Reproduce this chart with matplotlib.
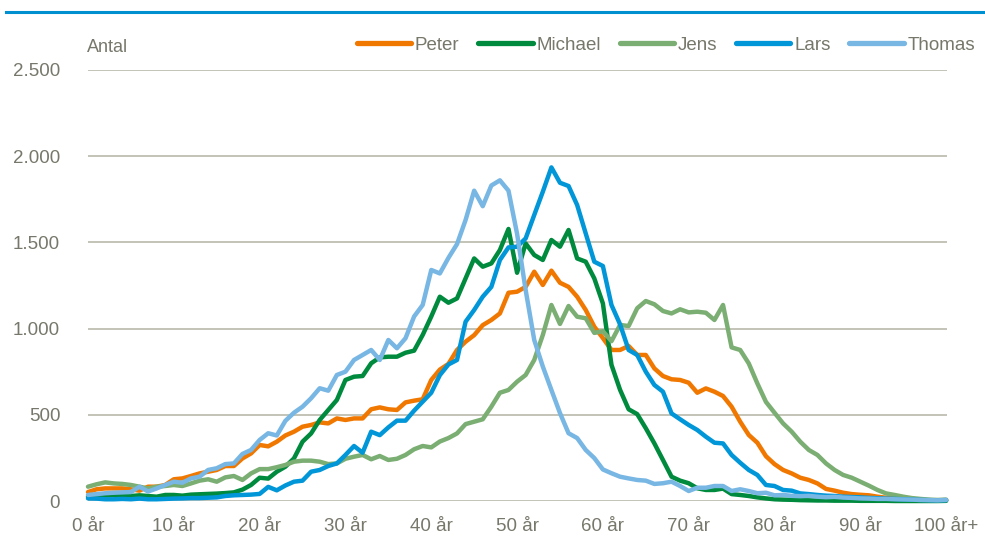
import matplotlib
matplotlib.use("Agg")
import matplotlib.pyplot as plt
from matplotlib.lines import Line2D

plt.rcParams['font.family'] = ['Liberation Sans', 'DejaVu Sans']

ages = list(range(101))
xtick_pos = [0, 10, 20, 30, 40, 50, 60, 70, 80, 90, 100]
xtick_labels = ["0 år", "10 år", "20 år", "30 år", "40 år", "50 år", "60 år", "70 år", "80 år", "90 år", "100 år+"]
ytick_pos = [0, 500, 1000, 1500, 2000, 2500]
ytick_labels = ["0", "500", "1.000", "1.500", "2.000", "2.500"]

peter = [52, 68, 73, 73, 73, 68, 60, 83, 83, 93, 126, 131, 145, 160, 170, 180, 203, 203, 247, 276,
         325, 317, 344, 380, 402, 431, 441, 456, 450, 479, 470, 479, 479, 532, 543, 532, 528, 572, 582, 590,
         702, 762, 795, 876, 924, 962, 1020, 1050, 1088, 1208, 1214, 1242, 1330, 1253, 1336, 1266, 1242, 1185, 1108, 1011,
         945, 876, 876, 899, 847, 847, 769, 725, 706, 702, 686, 628, 653, 634, 609, 547, 460, 383, 338, 260,
         214, 180, 160, 135, 122, 102, 70, 60, 48, 40, 36, 33, 25, 19, 15, 10, 8, 6, 4, 3, 5]
michael = [25, 29, 31, 35, 33, 29, 33, 29, 25, 35, 35, 31, 37, 39, 41, 43, 46, 50, 66, 93,
           135, 130, 170, 199, 247, 344, 392, 470, 528, 586, 702, 721, 725, 799, 833, 837, 837, 860, 872, 963,
           1070, 1185, 1150, 1175, 1291, 1407, 1359, 1378, 1456, 1578, 1324, 1494, 1427, 1398, 1514, 1475, 1572, 1407, 1388, 1291,
           1146, 790, 645, 532, 504, 422, 334, 238, 141, 118, 103, 74, 64, 64, 72, 40, 35, 29, 21, 15,
           10, 8, 7, 5, 4, 3, 3, 2, 2, 2, 1, 1, 1, 1, 0, 0, 0, 0, 0, 0, 1]
jens = [83, 97, 108, 102, 99, 93, 83, 73, 83, 87, 93, 87, 102, 118, 126, 112, 137, 145, 122, 160,
        185, 185, 196, 209, 228, 234, 234, 228, 214, 218, 245, 257, 267, 242, 261, 238, 245, 267, 300, 319,
        311, 345, 365, 392, 446, 460, 474, 547, 628, 644, 692, 731, 818, 963, 1137, 1027, 1131, 1069, 1060, 975,
        985, 927, 1021, 1015, 1118, 1160, 1141, 1102, 1088, 1112, 1094, 1098, 1092, 1050, 1137, 891, 876, 798, 682, 575,
        512, 450, 402, 344, 296, 267, 218, 180, 151, 135, 112, 89, 64, 44, 35, 25, 17, 12, 8, 6, 8]
lars = [15, 14, 10, 10, 12, 10, 14, 10, 10, 12, 14, 15, 17, 17, 19, 21, 29, 33, 35, 37,
        41, 82, 62, 90, 112, 118, 170, 180, 203, 218, 267, 319, 280, 402, 382, 427, 466, 466, 524, 576,
        628, 730, 792, 818, 1040, 1108, 1185, 1242, 1398, 1471, 1475, 1523, 1659, 1794, 1935, 1846, 1827, 1717, 1552, 1388,
        1363, 1137, 1025, 876, 847, 750, 673, 634, 508, 474, 441, 412, 373, 338, 334, 267, 222, 180, 151, 93,
        87, 64, 60, 44, 40, 35, 31, 29, 25, 23, 21, 18, 16, 14, 12, 10, 8, 6, 5, 4, 5]
thomas = [35, 40, 45, 48, 50, 52, 83, 55, 73, 93, 112, 106, 131, 141, 180, 190, 214, 218, 273, 296,
          354, 393, 380, 465, 512, 547, 596, 654, 640, 731, 750, 818, 847, 876, 818, 934, 886, 944, 1070, 1137,
          1340, 1320, 1410, 1490, 1630, 1800, 1710, 1830, 1860, 1800, 1550, 1224, 934, 780, 644, 510, 393, 365, 296, 249,
          183, 161, 141, 131, 122, 118, 99, 103, 112, 87, 58, 77, 77, 87, 87, 58, 68, 58, 45, 48,
          33, 35, 30, 28, 30, 25, 22, 24, 20, 18, 15, 14, 12, 12, 10, 9, 8, 6, 5, 4, 6]

names = ["Peter", "Michael", "Jens", "Lars", "Thomas"]
series = [peter, michael, jens, lars, thomas]
colors = ["#F07800", "#008A3E", "#7BAE72", "#0096D8", "#78B6E4"]

text_color = "#77776B"
grid_color = "#BEBEB2"

fig = plt.figure(figsize=(9.85, 5.39), dpi=100)
ax = fig.add_axes([88 / 985, 38 / 539, (947 - 88) / 985, (501 - 70) / 539])

for name, vals, col in zip(names, series, colors):
    ax.plot(ages, vals, color=col, lw=3.2, label=name, solid_joinstyle='round',
            solid_capstyle='round', clip_on=False, zorder=3)

ax.set_xlim(0, 100.1)
ax.set_ylim(0, 2500)
ax.set_xticks(xtick_pos)
ax.set_xticklabels(xtick_labels)
ax.set_yticks(ytick_pos)
ax.set_yticklabels(ytick_labels)
ax.tick_params(axis='both', length=0, labelsize=13.5, labelcolor=text_color)
ax.tick_params(axis='x', pad=12)
ax.tick_params(axis='y', pad=20)
ax.grid(axis='y', color=grid_color, lw=1.3, zorder=0)
ax.set_axisbelow(True)
for s in ax.spines.values():
    s.set_visible(False)

fig.text(87 / 985, 1 - 47 / 539, "Antal", fontsize=13, color=text_color, ha='left', va='center')

handles = [Line2D([0], [0], color=c, lw=3.8, solid_capstyle='round') for c in colors]
leg = fig.legend(handles, names, loc='center right', bbox_to_anchor=(975 / 985, 1 - 45 / 539),
                 ncol=5, frameon=False, fontsize=13.5, handlelength=2.9, handletextpad=0.2,
                 columnspacing=1.0, borderaxespad=0, borderpad=0)
for t in leg.get_texts():
    t.set_color(text_color)

# top rule
fig.add_artist(Line2D([6 / 985, 1.0], [1 - 12 / 539, 1 - 12 / 539], color="#0090D0", lw=2.2))

fig.savefig("out.png", dpi=100)
